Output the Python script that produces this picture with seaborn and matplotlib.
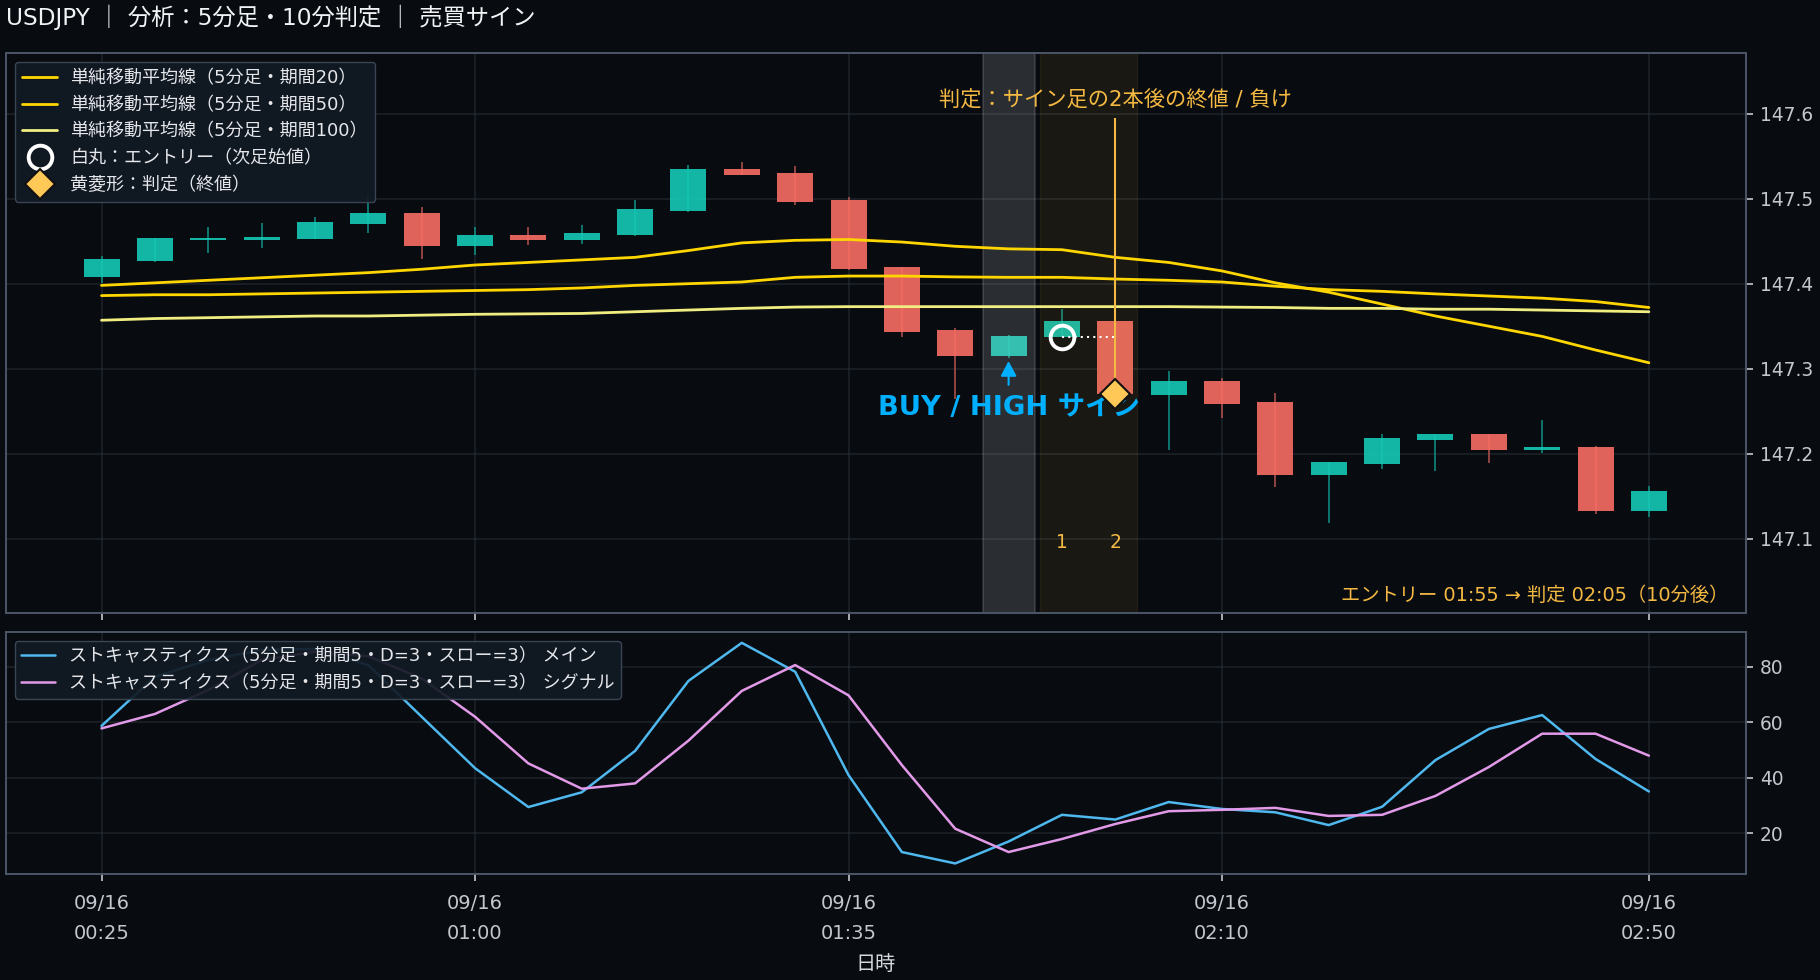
import numpy as np
import pandas as pd
import seaborn as sns
import matplotlib.pyplot as plt

# 30 five minute bars, USDJPY
times = ["00:25", "00:30", "00:35", "00:40", "00:45", "00:50", "00:55", "01:00", "01:05", "01:10",
         "01:15", "01:20", "01:25", "01:30", "01:35", "01:40", "01:45", "01:50", "01:55", "02:00",
         "02:05", "02:10", "02:15", "02:20", "02:25", "02:30", "02:35", "02:40", "02:45", "02:50"]

opens = [147.408, 147.427, 147.451, 147.451, 147.4526, 147.470, 147.483, 147.444, 147.457, 147.451,
         147.457, 147.4855, 147.535, 147.530, 147.4985, 147.4196, 147.3455, 147.315, 147.337, 147.356,
         147.269, 147.2855, 147.2608, 147.175, 147.1879, 147.216, 147.2232, 147.2044, 147.2078, 147.1326]
closes = [147.429, 147.454, 147.454, 147.455, 147.4726, 147.483, 147.444, 147.457, 147.451, 147.4596,
          147.488, 147.535, 147.528, 147.496, 147.4173, 147.3431, 147.315, 147.3385, 147.356, 147.27,
          147.2855, 147.2585, 147.175, 147.190, 147.2185, 147.2232, 147.2044, 147.2078, 147.1326, 147.1562]
highs = [147.4326, 147.454, 147.4667, 147.4714, 147.4785, 147.504, 147.49, 147.4667, 147.4667, 147.469,
         147.4985, 147.5396, 147.543, 147.5385, 147.502, 147.4196, 147.348, 147.3396, 147.370, 147.356,
         147.2973, 147.289, 147.2714, 147.190, 147.2232, 147.2232, 147.2232, 147.2396, 147.209, 147.162]
lows = [147.401, 147.426, 147.4365, 147.442, 147.4526, 147.4596, 147.429, 147.4338, 147.4455, 147.4467,
        147.456, 147.484, 147.528, 147.4926, 147.416, 147.3373, 147.2647, 147.3125, 147.337, 147.27,
        147.2043, 147.2423, 147.1608, 147.1188, 147.182, 147.1796, 147.189, 147.2008, 147.129, 147.1255]

sma20 = [147.398, 147.401, 147.404, 147.407, 147.410, 147.413, 147.417, 147.422, 147.425, 147.428,
         147.431, 147.439, 147.448, 147.451, 147.452, 147.449, 147.444, 147.441, 147.440, 147.431,
         147.425, 147.415, 147.401, 147.390, 147.376, 147.362, 147.350, 147.338, 147.322, 147.307]
sma50 = [147.386, 147.387, 147.387, 147.388, 147.389, 147.390, 147.391, 147.392, 147.393, 147.395,
         147.398, 147.400, 147.402, 147.4075, 147.409, 147.409, 147.408, 147.4075, 147.4075, 147.4055,
         147.404, 147.402, 147.397, 147.393, 147.391, 147.388, 147.3855, 147.383, 147.379, 147.372]
sma100 = [147.357, 147.359, 147.360, 147.361, 147.362, 147.362, 147.363, 147.364, 147.3645, 147.365,
          147.367, 147.369, 147.371, 147.3725, 147.373, 147.373, 147.373, 147.373, 147.373, 147.373,
          147.373, 147.3725, 147.372, 147.371, 147.371, 147.370, 147.370, 147.369, 147.368, 147.367]

stoch_main = [58.7, 76.4, 82.4, 86.0, 86.4, 80.6, 62.0, 43.5, 29.5, 34.8,
              49.7, 74.9, 88.6, 78.2, 41.0, 13.3, 9.2, 17.1, 26.7, 25.0,
              31.3, 28.8, 27.6, 23.0, 29.6, 46.4, 57.6, 62.6, 46.8, 35.1]
stoch_signal = [57.8, 63.0, 71.6, 82.4, 85.4, 83.8, 75.8, 62.0, 45.2, 36.1,
                38.0, 53.4, 71.3, 80.6, 69.7, 44.6, 21.7, 13.3, 18.0, 23.4,
                28.0, 28.5, 29.2, 26.3, 26.7, 33.5, 43.9, 55.9, 55.9, 48.0]

# signal bar, entry bar and verdict bar
signal_i, entry_i, judge_i = 17, 18, 19
entry_price = 147.337
judge_price = 147.27

tick_idx = [0, 7, 14, 21, 29]
tick_labels = ["09/16\n00:25", "09/16\n01:00", "09/16\n01:35", "09/16\n02:10", "09/16\n02:50"]

BG = "#080b10"
UP = "#15c9b6"
DOWN = "#f86d63"
GOLD = "#f4b942"
BLUE = "#00b0ff"
SPINE = "#4b5666"
FONT = ["DejaVu Sans", "Noto Sans CJK JP"]

sns.set_theme(style="dark", rc={
    "figure.facecolor": BG,
    "axes.facecolor": BG,
    "axes.edgecolor": SPINE,
    "axes.linewidth": 1.4,
    "axes.grid": True,
    "grid.color": "#2a3038",
    "grid.alpha": 0.55,
    "grid.linewidth": 1.3,
    "text.color": "#e5e7eb",
    "xtick.color": "#c4c8ce",
    "ytick.color": "#c4c8ce",
    "axes.labelcolor": "#d5d8dd",
    "xtick.bottom": True,
    "ytick.right": True,
})
plt.rcParams["font.family"] = FONT

df = pd.DataFrame({"i": np.arange(len(times)), "time": times, "open": opens, "close": closes,
                   "high": highs, "low": lows, "sma20": sma20, "sma50": sma50, "sma100": sma100,
                   "main": stoch_main, "signal": stoch_signal})
up = df["close"] >= df["open"]

W, H = 1820, 980
fig = plt.figure(figsize=(W / 100, H / 100), dpi=100)
ax = fig.add_axes([6 / W, 1 - 613 / H, 1740 / W, 560 / H])
ax2 = fig.add_axes([6 / W, 1 - 874 / H, 1740 / W, 242 / H], sharex=ax)

# candles, wicks sit under the slightly see-through bodies
ax.vlines(df["i"], df["low"], df["high"], colors=["#0f9486" if u else "#b5534d" for u in up],
          linewidth=1.1, zorder=0.9)
ax.bar(df["i"], (df["close"] - df["open"]).abs(), bottom=df[["open", "close"]].min(axis=1),
       width=0.675, color=[UP if u else DOWN for u in up], alpha=0.9, edgecolor="none", linewidth=0, zorder=1)

# highlighted bars
ax.axvspan(signal_i - 0.48, signal_i + 0.49, facecolor="#ffffff", alpha=0.14, edgecolor="#ffffff",
           linewidth=1.2, zorder=1.3)
ax.axvspan(entry_i - 0.41, judge_i + 0.41, facecolor=GOLD, alpha=0.08, edgecolor=GOLD,
           linewidth=1.0, zorder=1.3)

sns.lineplot(data=df, x="i", y="sma20", ax=ax, color="#ffd600", linewidth=2.0, label="単純移動平均線（5分足・期間20）")
sns.lineplot(data=df, x="i", y="sma50", ax=ax, color="#ffd600", linewidth=2.0, label="単純移動平均線（5分足・期間50）")
sns.lineplot(data=df, x="i", y="sma100", ax=ax, color="#f0ee80", linewidth=2.0, label="単純移動平均線（5分足・期間100）")

# verdict line, entry to verdict dots
ax.vlines(judge_i, judge_price, 147.595, colors=GOLD, linewidth=1.5, zorder=3)
ax.hlines(entry_price, entry_i, judge_i, colors="white", linestyles=(0, (1, 2)), linewidth=1.5, zorder=3)
ax.plot([entry_i], [entry_price], marker="o", ms=17, mfc="none", mec="white", mew=2.8, ls="none",
        zorder=5, label="白丸：エントリー（次足始値）")
ax.plot([judge_i], [judge_price], marker="D", ms=15.5, mfc="#ffc857", mec="#111111", mew=1.5, ls="none",
        zorder=5, label="黄菱形：判定（終値）")

ax.annotate("", xy=(signal_i, 147.309), xytext=(signal_i, 147.281),
            arrowprops=dict(arrowstyle="-|>,head_length=0.6,head_width=0.32", color=BLUE, lw=1.5,
                            shrinkA=0, shrinkB=0, mutation_scale=15), zorder=4)
ax.text(signal_i, 147.2535, "BUY / HIGH サイン", color=BLUE, fontsize=19.7, fontweight="bold",
        ha="center", va="center", zorder=4)
ax.text(judge_i, 147.616, "判定：サイン足の2本後の終値 / 負け", color=GOLD, fontsize=15.3,
        ha="center", va="center", zorder=4)
ax.text(entry_i, 147.096, "1", color=GOLD, fontsize=13.5, ha="center", va="center", zorder=4)
ax.text(judge_i, 147.096, "2", color=GOLD, fontsize=13.5, ha="center", va="center", zorder=4)
ax.text(0.99, 0.0305, "エントリー 01:55 → 判定 02:05（10分後）", color=GOLD, fontsize=13.9,
        ha="right", va="center", transform=ax.transAxes, zorder=4)

# stochastics
sns.lineplot(data=df, x="i", y="main", ax=ax2, color="#4fb8ee", linewidth=1.8,
             label="ストキャスティクス（5分足・期間5・D=3・スロー=3） メイン")
sns.lineplot(data=df, x="i", y="signal", ax=ax2, color="#e29ae8", linewidth=1.8,
             label="ストキャスティクス（5分足・期間5・D=3・スロー=3） シグナル")

ax.set_xlim(-1.79, 30.82)
ax.set_ylim(147.0126, 147.6714)
ax.set_yticks([147.1, 147.2, 147.3, 147.4, 147.5, 147.6])
ax.set_yticklabels(["147.1", "147.2", "147.3", "147.4", "147.5", "147.6"])
ax2.set_ylim(5.4, 92.5)
ax2.set_yticks([20, 40, 60, 80])
ax2.set_xticks(tick_idx)
ax2.set_xticklabels(tick_labels, linespacing=1.7)

for a in (ax, ax2):
    a.set_ylabel("")
    a.yaxis.tick_right()
    a.tick_params(axis="y", length=5, width=1.2, labelsize=13.4, pad=5)
    a.tick_params(axis="x", length=5, width=1.2, labelsize=14, pad=9.5)
ax.set_xlabel("")
ax.tick_params(axis="x", labelbottom=False)
ax2.set_xlabel("")
fig.text(876 / W, 1 - 964 / H, "日時", color="#d5d8dd", fontsize=14.5, ha="center", va="center")

legend_opts = dict(loc="upper left", frameon=True, facecolor="#111a24", edgecolor="#3f4a5a",
                   framealpha=0.92, labelcolor="#e5e7eb", handlelength=1.9, handletextpad=0.75,
                   borderaxespad=0)
ax.legend(bbox_to_anchor=(8.8 / 1740, 1 - 8.8 / 560), fontsize=13, labelspacing=0.48, borderpad=0.42, **legend_opts)
ax2.legend(bbox_to_anchor=(8.6 / 1740, 1 - 8.8 / 242), fontsize=12.95, labelspacing=0.51, borderpad=0.36, **legend_opts)

fig.text(6 / W, 1 - 17 / H, "USDJPY ｜ 分析：5分足・10分判定 ｜ 売買サイン", color="#f1f3f5", fontsize=16.75,
         ha="left", va="center")

fig.savefig("out.png", dpi=100, facecolor=BG)
